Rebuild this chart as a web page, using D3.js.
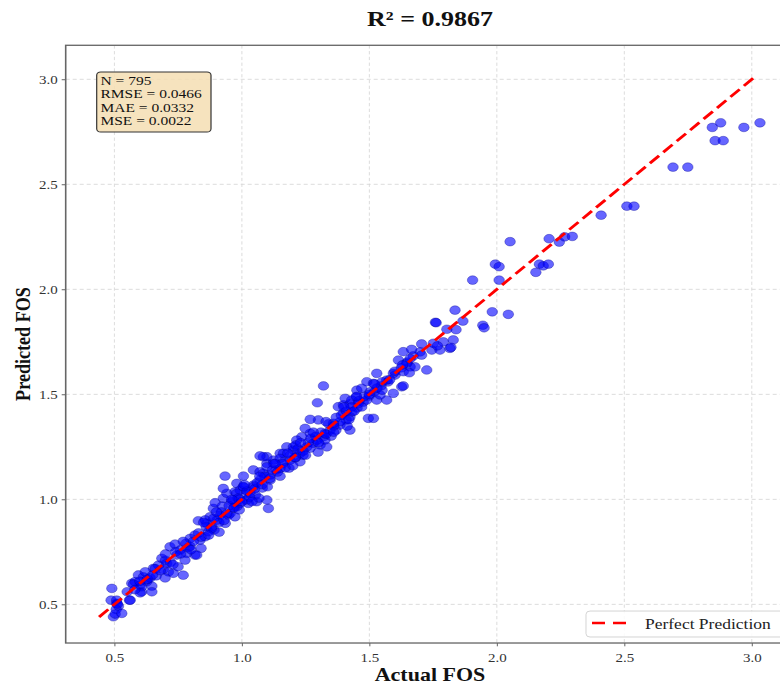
<!DOCTYPE html>
<html>
<head>
<meta charset="utf-8">
<script src="https://cdn.jsdelivr.net/npm/d3@7"></script>
<style>
  body { margin: 0; background: #fff; }
  svg { display: block; }
  text { font-family: "Liberation Serif", "Times New Roman", serif; }
</style>
</head>
<body>
<div id="chart"></div>
<script>
  // ---- data: [actual, predicted] ----
  var lowBand = [
    [0.487,0.520],[0.509,0.505],[0.516,0.492],[0.507,0.476],[0.496,0.441],[0.503,0.454],
    [0.529,0.457],[0.559,0.520],[0.568,0.600],[0.581,0.608],[0.601,0.592],[0.607,0.560],
    [0.627,0.608],[0.490,0.576],[0.509,0.520],[0.512,0.501],[0.562,0.520],[0.575,0.597],
    [0.607,0.584],[0.647,0.587],[0.647,0.560],[0.601,0.555],[0.594,0.640],[0.627,0.616],
    [0.614,0.631],[0.653,0.671],[0.673,0.687],[0.692,0.667],[0.712,0.655],[0.731,0.648],
    [0.686,0.719],[0.705,0.695],[0.718,0.774],[0.738,0.787],[0.758,0.759],[0.745,0.735],
    [0.784,0.743],[0.816,0.735],[0.777,0.711],[0.797,0.814],[0.816,0.830],[0.836,0.806],
    [0.856,0.822],[0.869,0.846],[0.882,0.870],[0.902,0.901],[0.915,0.925],[0.875,0.917],
    [0.935,0.886],[0.862,0.886],[0.829,0.898],[0.888,0.957],[0.895,0.984],[0.927,1.005],
    [0.941,1.029],[0.934,1.111],[0.927,1.052],[0.621,0.655],[0.640,0.626],[0.664,0.636],
    [0.699,0.626],[0.750,0.679],[0.770,0.639],[0.797,0.776],[0.840,0.767],[0.856,0.902],
    [0.891,0.854],[0.911,0.844],[0.947,0.925],[0.923,0.968],[0.823,0.735]
  ];
  var midBand = [
    [0.960,0.989],[0.973,1.036],[0.993,1.044],[0.980,1.076],[1.006,1.060],[1.019,1.029],
    [1.045,1.068],[1.025,0.981],[1.006,1.111],[1.104,0.957],[1.045,1.140],[1.071,1.131],
    [1.098,1.171],[1.124,1.187],[1.150,1.219],[1.176,1.250],[1.202,1.235],[1.228,1.219],
    [1.255,1.250],[1.280,1.267],[1.307,1.259],[1.333,1.250],[1.098,1.203],[1.150,1.148],
    [1.189,1.187],[1.228,1.179],[0.980,0.965],[1.084,1.203],[1.300,1.378],[1.320,1.298],
    [1.294,1.282],[1.268,1.314],[1.248,1.338],[1.235,1.298],[1.215,1.282],[1.202,1.250],
    [1.163,1.219],[1.150,1.195],[1.124,1.171],[1.098,1.155],[1.084,1.124],[1.111,1.092],
    [1.071,1.092],[1.045,1.060],[1.032,1.029],[1.006,1.060],[0.980,1.029],[0.967,0.997],
    [0.993,0.981],[1.019,0.997],[1.058,0.989],[1.098,0.997],[0.954,0.933],[0.973,0.917],
    [0.966,0.959],[0.985,1.006],[1.053,1.021],[1.080,1.054],[1.067,1.006],[1.111,1.116],
    [1.134,1.140],[1.162,1.178],[1.185,1.149],[1.209,1.197],[1.240,1.211],[1.268,1.244],
    [1.212,1.259],[1.299,1.225],[1.326,1.283],[1.071,1.207],[1.346,1.330],[1.326,1.314],
    [1.268,1.381],[1.296,1.460],[1.320,1.540]
  ];
  var upperBand = [
    [1.350,1.301],[1.369,1.330],[1.385,1.354],[1.409,1.378],[1.432,1.416],[1.452,1.435],
    [1.476,1.463],[1.499,1.492],[1.519,1.511],[1.546,1.540],[1.573,1.559],[1.601,1.592],
    [1.625,1.626],[1.648,1.654],[1.672,1.683],[1.699,1.702],[1.448,1.487],[1.424,1.330],
    [1.413,1.349],[1.398,1.450],[1.424,1.455],[1.378,1.441],[1.398,1.410],[1.424,1.393],
    [1.385,1.370],[1.359,1.362],[1.405,1.481],[1.431,1.473],[1.457,1.457],[1.490,1.473],
    [1.529,1.473],[1.568,1.473],[1.594,1.505],[1.627,1.536],[1.542,1.497],[1.503,1.512],
    [1.451,1.520],[1.470,1.529],[1.490,1.560],[1.516,1.552],[1.529,1.600],[1.568,1.568],
    [1.594,1.600],[1.633,1.608],[1.660,1.631],[1.725,1.616],[1.614,1.663],[1.705,1.687],
    [1.633,1.703],[1.666,1.714],[1.705,1.740],[1.745,1.711],[1.777,1.711],[1.816,1.719],
    [1.790,1.750],[1.751,1.743],[1.496,1.386],[1.516,1.386],[1.679,1.631],[1.647,1.648],
    [1.657,1.603],[1.633,1.540]
  ];
  // overlapping points in the solid core of the band
  var coreBand = [
    [0.55,0.56],[0.58,0.57],[0.60,0.61],[0.63,0.62],[0.65,0.64],[0.66,0.67],[0.68,0.66],
    [0.70,0.71],[0.72,0.70],[0.74,0.75],[0.76,0.74],[0.78,0.79],[0.79,0.77],[0.81,0.80],
    [0.83,0.84],[0.84,0.82],[0.86,0.87],[0.88,0.86],[0.89,0.91],[0.91,0.89],[0.92,0.94],
    [0.94,0.93],[0.95,0.97],[0.97,0.96],[0.99,1.00],[1.00,0.99],[1.02,1.04],[1.03,1.01],
    [1.05,1.05],[1.06,1.08],[1.08,1.07],[1.09,1.11],[1.11,1.10],[1.12,1.14],[1.14,1.13],
    [1.16,1.17],[1.17,1.15],[1.19,1.21],[1.21,1.20],[1.22,1.24],[1.24,1.23],[1.26,1.27],
    [1.27,1.29],[1.29,1.30],[1.31,1.32],[1.33,1.31],[1.34,1.36],[1.36,1.35],[1.37,1.39],
    [1.39,1.40],[1.41,1.42],[1.43,1.44],[1.44,1.42],[1.46,1.47],[1.48,1.49],[1.50,1.50],
    [1.53,1.53],[1.55,1.56],[1.58,1.57],[1.60,1.61],[1.63,1.64],[1.66,1.67],
    [0.70,0.74],[0.73,0.69],[0.77,0.80],[0.80,0.76],[0.85,0.89],[0.87,0.83],[0.90,0.94],
    [0.93,0.90],[0.96,1.00],[0.99,0.95],[1.01,1.07],[1.04,0.99],[1.07,1.11],[1.10,1.06],
    [1.13,1.17],[1.15,1.11],[1.18,1.22],[1.20,1.16],[1.23,1.27],[1.25,1.21],[1.28,1.32],
    [1.30,1.27],[1.33,1.37],[1.36,1.32],[1.40,1.44],[1.42,1.38],[1.45,1.49],[1.47,1.44],
    [1.52,1.55],[1.55,1.52]
  ];
  var sparseHigh = [
    [1.759,1.843],[1.762,1.841],[1.867,1.849],[1.836,1.901],[1.945,1.829],[1.950,1.817],
    [1.804,1.810],[1.840,1.808],[1.829,1.759],[1.820,1.724],[1.767,1.731],[1.982,1.893],
    [2.045,1.881],[1.905,2.044],[2.009,2.044],[2.153,2.081],[2.167,2.120],[2.182,2.112],
    [2.202,2.120],[1.994,2.120],[2.009,2.108],[2.052,2.227],[2.205,2.241],[2.245,2.225],
    [2.266,2.250],[2.296,2.252],[2.409,2.353],[2.510,2.396],[2.538,2.396],[2.691,2.582],
    [2.749,2.582],[2.845,2.771],[2.878,2.793],[2.969,2.771],[3.032,2.793],[2.856,2.708],
    [2.888,2.708]
  ];

  var xTicks = [0.5, 1.0, 1.5, 2.0, 2.5, 3.0];
  var yTicks = [0.5, 1.0, 1.5, 2.0, 2.5, 3.0];
  var xLimits = [0.309, 3.162];
  var yLimits = [0.316, 3.162];
  var idealRange = [0.44, 3.02];   // ends of the y = x line
  var statsLines = ['N = 795', 'RMSE = 0.0466', 'MAE = 0.0332', 'MSE = 0.0022'];
  var r2 = 0.9867;

  // the reference picture is squashed vertically, so draw in a taller box
  var W = 780, H = 684, K = 210 / 255;
  var VH = H / K;
  var plotL = 65.7, plotR = 793.1, plotT = 55, plotB = 780.8;

  var svg = d3.select('#chart').append('svg:svg')
      .attr('width', W).attr('height', H)
      .attr('viewBox', '0 0 ' + W + ' ' + VH)
      .attr('preserveAspectRatio', 'none');

  var x = d3.scaleLinear().domain(xLimits).range([plotL, plotR]);
  var y = d3.scaleLinear().domain(yLimits).range([plotB, plotT]);

  // grid
  var grid = svg.append('g').attr('stroke', '#d4d4d4').attr('stroke-width', 0.9)
      .attr('stroke-dasharray', '4,3');
  grid.selectAll('line.vx').data(xTicks).enter().append('line')
      .attr('x1', function(d) { return x(d); }).attr('x2', function(d) { return x(d); })
      .attr('y1', plotT).attr('y2', plotB);
  grid.selectAll('line.hy').data(yTicks).enter().append('line')
      .attr('y1', function(d) { return y(d); }).attr('y2', function(d) { return y(d); })
      .attr('x1', plotL).attr('x2', plotR);

  // axes
  var fmt = d3.format('.1f');
  var xAxis = svg.append('g').attr('transform', 'translate(0,' + plotB + ')')
      .call(d3.axisBottom(x).tickValues(xTicks).tickFormat(fmt).tickSize(4).tickPadding(9));
  var yAxis = svg.append('g').attr('transform', 'translate(' + plotL + ',0)')
      .call(d3.axisLeft(y).tickValues(yTicks).tickFormat(fmt).tickSize(4).tickPadding(4));
  [xAxis, yAxis].forEach(function(a) {
    a.select('.domain').remove();
    a.selectAll('line').attr('stroke', '#555');
    a.selectAll('text').attr('fill', '#333').style('font-size', '15px')
        .style('font-family', '"Liberation Serif", serif');
  });

  // points
  var points = lowBand.concat(midBand, upperBand, coreBand, sparseHigh);
  svg.append('g').selectAll('circle').data(points).enter().append('circle')
      .attr('cx', function(d) { return x(d[0]); })
      .attr('cy', function(d) { return y(d[1]); })
      .attr('r', 5.3)
      .attr('fill', '#0000ff').attr('fill-opacity', 0.6)
      .attr('stroke', '#00008b').attr('stroke-opacity', 0.6).attr('stroke-width', 0.6);

  // perfect prediction line
  svg.append('line')
      .attr('x1', x(idealRange[0])).attr('y1', y(idealRange[0]))
      .attr('x2', x(idealRange[1])).attr('y2', y(idealRange[1]))
      .attr('stroke', '#ff0000').attr('stroke-width', 3.2).attr('stroke-dasharray', '13,6');

  // frame
  svg.append('rect').attr('x', plotL).attr('y', plotT)
      .attr('width', plotR - plotL).attr('height', plotB - plotT)
      .attr('fill', 'none').attr('stroke', '#666').attr('stroke-width', 1.6);

  // stats box
  svg.append('rect').attr('x', 96.7).attr('y', 87.4).attr('width', 114.3).attr('height', 72.9)
      .attr('rx', 4).attr('fill', '#f5deb3').attr('fill-opacity', 0.85)
      .attr('stroke', '#333').attr('stroke-width', 1.2);
  svg.append('g').selectAll('text').data(statsLines).enter().append('text')
      .attr('x', 100.5).attr('y', function(d, i) { return 103.2 + i * 16.2; })
      .style('font-size', '15.5px').attr('fill', '#111')
      .text(function(d) { return d; });

  // legend
  var lg = svg.append('g');
  lg.append('rect').attr('x', 586).attr('y', 742).attr('width', 210).attr('height', 31.5)
      .attr('rx', 4).attr('fill', '#fff').attr('fill-opacity', 0.85)
      .attr('stroke', '#d0d0d0').attr('stroke-width', 1);
  lg.append('line').attr('x1', 592).attr('x2', 626).attr('y1', 756.5).attr('y2', 756.5)
      .attr('stroke', '#ff0000').attr('stroke-width', 3.2).attr('stroke-dasharray', '13,8');
  lg.append('text').attr('x', 645).attr('y', 764).style('font-size', '17.5px')
      .attr('fill', '#222').text('Perfect Prediction');

  // titles
  svg.append('text').attr('x', 430).attr('y', 31.6).attr('text-anchor', 'middle')
      .style('font-size', '26px').style('font-weight', 'bold').attr('fill', '#111')
      .text('R\u00b2 = ' + r2.toFixed(4));
  svg.append('text').attr('x', 430).attr('y', 827).attr('text-anchor', 'middle')
      .style('font-size', '22px').style('font-weight', 'bold').attr('fill', '#111')
      .text('Actual FOS');
  svg.append('text').attr('transform', 'translate(30,417.7) rotate(-90)')
      .attr('text-anchor', 'middle')
      .style('font-size', '22px').style('font-weight', 'bold').attr('fill', '#111')
      .text('Predicted FOS');
</script>
</body>
</html>
